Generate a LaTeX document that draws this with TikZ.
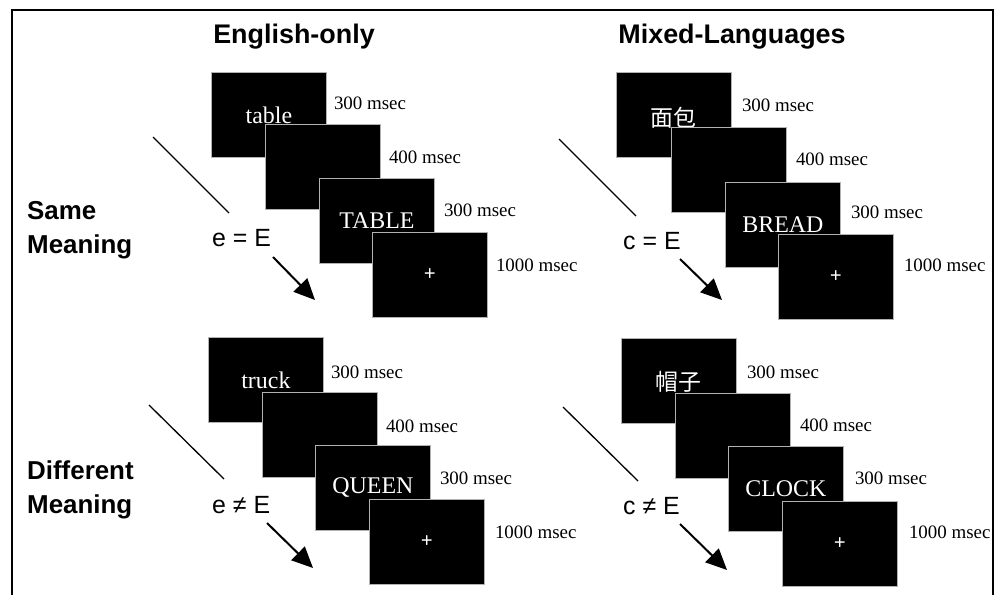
\documentclass[tikz,border=0pt]{standalone}
\usepackage{fontspec}
\setmainfont{Liberation Serif}
\newfontfamily\arialf{Liberation Sans}
\newfontfamily\cjk{Noto Sans CJK SC}
\usetikzlibrary{arrows.meta}
\begin{document}
\begin{tikzpicture}[x=1bp,y=-1bp,
  scr/.style={rectangle, fill=black, draw=white!70!black, line width=0.8bp,
    minimum width=115bp, minimum height=85bp, inner sep=0pt, anchor=north west,
    text=white, font=\fontsize{24}{24}\selectfont},
  plus/.style={scr, font=\bfseries\fontsize{21}{21}\selectfont},
  cjkbox/.style={scr, font=\cjk\fontsize{23}{23}\selectfont},
  lbl/.style={anchor=west, font=\fontsize{19}{19}\selectfont, inner sep=0pt},
  ttl/.style={font=\arialf\bfseries\fontsize{27}{27}\selectfont, inner sep=0pt},
  rowlbl/.style={font=\arialf\bfseries\fontsize{26}{34}\selectfont, align=left, anchor=west, inner sep=0pt},
  eqlbl/.style={font=\arialf\fontsize{25}{25}\selectfont, anchor=west, inner sep=0pt},
  diag/.style={line width=1.3bp},
  arr/.style={line width=2bp, -{Triangle[length=21bp,width=19bp]}},
  frame/.style={line width=2bp},
]
\useasboundingbox (0,0) rectangle (998,595);
\fill[white] (0,0) rectangle (998,595);
% frame
\coordinate (f1) at (12,595);
\coordinate (f2) at (12,10);
\coordinate (f3) at (993,10);
\coordinate (f4) at (993,595);
\draw[frame] (f1) -- (f2) -- (f3) -- (f4);

% titles
\node[ttl] (t1) at (294,37) {English-only};
\node[ttl] (t2) at (732,37) {Mixed-Languages};
\node[rowlbl] (r1) at (27,230) {Same\\Meaning};
\node[rowlbl] (r2) at (27,490) {Different\\Meaning};

% ---- English-only, same meaning
\node[scr] (a1) at (211,72) {table};
\node[lbl] (la1) at ([xshift=7bp,yshift=-31bp]a1.north east) {300 msec};
\node[scr] (a2) at (265,124) {};
\node[lbl] (la2) at ([xshift=8bp,yshift=-33bp]a2.north east) {400 msec};
\node[scr] (a3) at (319,178) {TABLE};
\node[lbl] (la3) at ([xshift=9bp,yshift=-32bp]a3.north east) {300 msec};
\node[plus] (a4) at (372,232) {+};
\node[lbl] (la4) at ([xshift=8bp,yshift=-33bp]a4.north east) {1000 msec};
\coordinate (ad1) at (153,137);
\coordinate (ad2) at (229,213);
\draw[diag] (ad1) -- (ad2);
\node[eqlbl] (ae) at (212,238) {e = E};
\coordinate (aa1) at (273,257);
\coordinate (aa2) at (315,300);
\draw[arr] (aa1) -- (aa2);

% ---- Mixed, same meaning
\node[cjkbox] (b1) at (616,72) {\raisebox{-12bp}[0pt][0pt]{面包}};
\node[lbl] (lb1) at ([xshift=10bp,yshift=-33bp]b1.north east) {300 msec};
\node[scr] (b2) at (671,127) {};
\node[lbl] (lb2) at ([xshift=9bp,yshift=-32bp]b2.north east) {400 msec};
\node[scr] (b3) at (725,182) {BREAD};
\node[lbl] (lb3) at ([xshift=10bp,yshift=-30bp]b3.north east) {300 msec};
\node[plus] (b4) at (778,234) {+};
\node[lbl] (lb4) at ([xshift=10bp,yshift=-31bp]b4.north east) {1000 msec};
\coordinate (bd1) at (559,139);
\coordinate (bd2) at (636,216);
\draw[diag] (bd1) -- (bd2);
\node[eqlbl] (be) at (623,241) {c = E};
\coordinate (ba1) at (680,259);
\coordinate (ba2) at (722,300);
\draw[arr] (ba1) -- (ba2);

% ---- English-only, different meaning
\node[scr] (c1) at (208,337) {truck};
\node[lbl] (lc1) at ([xshift=7bp,yshift=-35bp]c1.north east) {300 msec};
\node[scr] (c2) at (262,392) {};
\node[lbl] (lc2) at ([xshift=8bp,yshift=-34bp]c2.north east) {400 msec};
\node[scr] (c3) at (315,445) {QUEEN};
\node[lbl] (lc3) at ([xshift=9bp,yshift=-33bp]c3.north east) {300 msec};
\node[plus] (c4) at (369,499) {+};
\node[lbl] (lc4) at ([xshift=10bp,yshift=-33bp]c4.north east) {1000 msec};
\coordinate (cd1) at (149,405);
\coordinate (cd2) at (224,479);
\draw[diag] (cd1) -- (cd2);
\node[eqlbl] (ce) at (212,505) {e ≠ E};
\coordinate (ca1) at (267,523);
\coordinate (ca2) at (313,568);
\draw[arr] (ca1) -- (ca2);

% ---- Mixed, different meaning
\node[cjkbox] (d1) at (621,338) {\raisebox{-10bp}[0pt][0pt]{帽子}};
\node[lbl] (ld1) at ([xshift=10bp,yshift=-34bp]d1.north east) {300 msec};
\node[scr] (d2) at (675,393) {};
\node[lbl] (ld2) at ([xshift=9bp,yshift=-32bp]d2.north east) {400 msec};
\node[scr] (d3) at (728,446) {CLOCK};
\node[lbl] (ld3) at ([xshift=11bp,yshift=-32bp]d3.north east) {300 msec};
\node[plus] (d4) at (782,501) {+};
\node[lbl] (ld4) at ([xshift=11bp,yshift=-31bp]d4.north east) {1000 msec};
\coordinate (dd1) at (563,407);
\coordinate (dd2) at (638,481);
\draw[diag] (dd1) -- (dd2);
\node[eqlbl] (de) at (623,506) {c ≠ E};
\coordinate (da1) at (680,524);
\coordinate (da2) at (727,570);
\draw[arr] (da1) -- (da2);
\end{tikzpicture}
\end{document}
